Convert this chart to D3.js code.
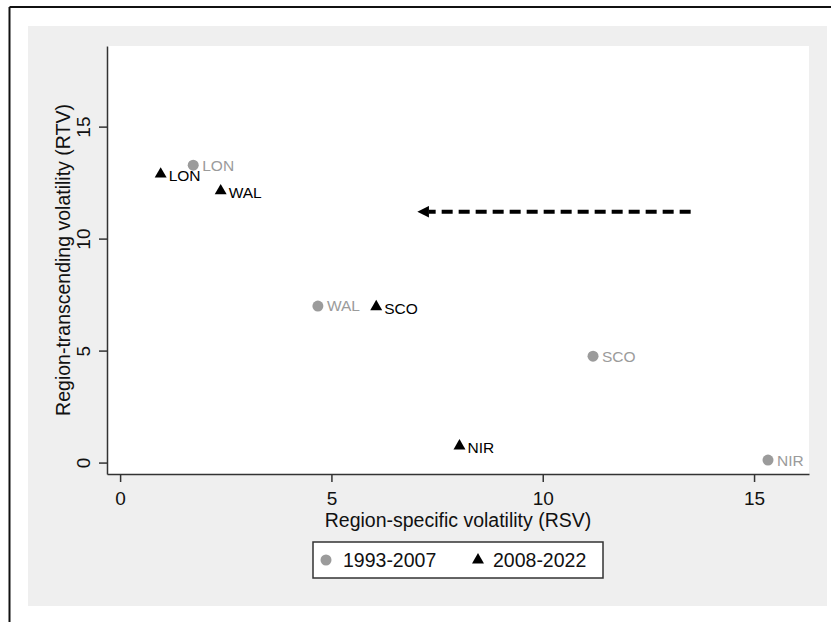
<!DOCTYPE html>
<html>
<head>
<meta charset="utf-8">
<script src="https://cdnjs.cloudflare.com/ajax/libs/d3/7.8.5/d3.min.js"></script>
<style>
    body { margin: 0; background: #fff; }
    svg { display: block; font-family: "Liberation Sans", Arial, sans-serif; }
</style>
</head>
<body>
<div id="chart"></div>
<script>
// values
var regions = ["LON", "WAL", "SCO", "NIR"];
var rsv_early = [1.73, 4.68, 11.19, 15.33];
var rtv_early = [13.28, 6.99, 4.75, 0.11];
var rsv_late = [0.96, 2.38, 6.06, 8.03];
var rtv_late = [12.88, 12.13, 6.96, 0.74];
var period_names = ["1993-2007", "2008-2022"];
var x_ticks = [0, 5, 10, 15];
var y_ticks = [0, 5, 10, 15];
var arrow_from = [13.5, 11.2];
var arrow_to = [7.0, 11.2];

var width = 831, height = 622;
var plot = { left: 107, right: 809, top: 46, bottom: 474 };
var grey = "#9b9b9b";

var svg = d3.select("#chart").append("svg")
    .attr("width", width)
    .attr("height", height);

// outer frame, only top and left edges show in the crop
svg.append("line").attr("x1", 9.5).attr("y1", 7).attr("x2", width).attr("y2", 7)
    .attr("stroke", "#111").attr("stroke-width", 2);
svg.append("line").attr("x1", 9.5).attr("y1", 7).attr("x2", 9.5).attr("y2", height)
    .attr("stroke", "#111").attr("stroke-width", 2);

// graph region
svg.append("rect")
    .attr("x", 28).attr("y", 26)
    .attr("width", 799).attr("height", 580)
    .attr("fill", "#efefef");

svg.append("rect")
    .attr("x", plot.left).attr("y", plot.top)
    .attr("width", plot.right - plot.left).attr("height", plot.bottom - plot.top)
    .attr("fill", "#fff");

var x = d3.scaleLinear()
    .domain([-0.31, 16.3])
    .range([plot.left, plot.right]);

var y = d3.scaleLinear()
    .domain([-0.51, 18.6])
    .range([plot.bottom, plot.top]);

var x_axis = svg.append("g")
    .attr("transform", "translate(0," + plot.bottom + ")")
    .call(d3.axisBottom(x).tickValues(x_ticks).tickSize(8).tickPadding(10).tickSizeOuter(0));

var y_axis = svg.append("g")
    .attr("transform", "translate(" + plot.left + ",0)")
    .call(d3.axisLeft(y).tickValues(y_ticks).tickSize(8).tickPadding(6).tickSizeOuter(0));

[x_axis, y_axis].forEach(function (a) {
    a.select(".domain").attr("stroke", "#333").attr("stroke-width", 1.5);
    a.selectAll(".tick line").attr("stroke", "#333").attr("stroke-width", 1.5);
    a.selectAll(".tick text")
        .attr("font-size", "19px")
        .attr("font-family", "Liberation Sans, Arial, sans-serif")
        .attr("fill", "#111");
});

// y tick labels stand vertical like in stata
y_axis.selectAll(".tick text")
    .attr("transform", "rotate(-90)")
    .attr("x", 0)
    .attr("y", -17)
    .attr("dy", 0)
    .style("text-anchor", "middle");

svg.append("text")
    .attr("x", (plot.left + plot.right) / 2)
    .attr("y", 527)
    .attr("font-size", "19.5px")
    .attr("fill", "#111")
    .style("text-anchor", "middle")
    .text("Region-specific volatility (RSV)");

svg.append("text")
    .attr("transform", "translate(70," + (plot.top + plot.bottom) / 2 + ") rotate(-90)")
    .attr("font-size", "19.5px")
    .attr("fill", "#111")
    .style("text-anchor", "middle")
    .text("Region-transcending volatility (RTV)");

// dashed arrow
svg.append("defs").append("marker")
    .attr("id", "head")
    .attr("viewBox", "0 0 10 10")
    .attr("refX", 0).attr("refY", 5)
    .attr("markerWidth", 3.3).attr("markerHeight", 2.9)
    .attr("markerUnits", "strokeWidth")
    .attr("orient", "auto-start-reverse")
    .append("path")
    .attr("d", "M0,0 L10,5 L0,10 Z")
    .attr("fill", "#000");

svg.append("line")
    .attr("x1", x(arrow_from[0])).attr("y1", y(arrow_from[1]))
    .attr("x2", x(arrow_to[0]) + 13).attr("y2", y(arrow_to[1]))
    .attr("stroke", "#000")
    .attr("stroke-width", 4)
    .attr("stroke-dasharray", "11,6")
    .attr("marker-end", "url(#head)");

// 1993-2007 points
var early = svg.append("g").selectAll("g")
    .data(regions)
    .enter().append("g")
    .attr("transform", function (d, i) { return "translate(" + x(rsv_early[i]) + "," + y(rtv_early[i]) + ")"; });

early.append("circle")
    .attr("r", 5.5)
    .attr("fill", grey);

early.append("text")
    .attr("x", 9)
    .attr("dy", "0.35em")
    .attr("font-size", "15.5px")
    .attr("fill", grey)
    .text(function (d) { return d; });

// 2008-2022 points
var tri = d3.symbol().type(d3.symbolTriangle).size(62);

var late = svg.append("g").selectAll("g")
    .data(regions)
    .enter().append("g")
    .attr("transform", function (d, i) { return "translate(" + x(rsv_late[i]) + "," + y(rtv_late[i]) + ")"; });

late.append("path")
    .attr("d", tri)
    .attr("fill", "#000");

late.append("text")
    .attr("x", 8)
    .attr("dy", "0.45em")
    .attr("font-size", "15.5px")
    .attr("fill", "#000")
    .text(function (d) { return d; });

// legend
var legend = svg.append("g");
legend.append("rect")
    .attr("x", 313).attr("y", 542)
    .attr("width", 290).attr("height", 36)
    .attr("fill", "#fff")
    .attr("stroke", "#333")
    .attr("stroke-width", 1.5);

legend.append("circle")
    .attr("cx", 326).attr("cy", 560)
    .attr("r", 5.5)
    .attr("fill", grey);

legend.append("path")
    .attr("d", tri)
    .attr("transform", "translate(478,560)")
    .attr("fill", "#000");

legend.selectAll("text.lab")
    .data(period_names)
    .enter().append("text")
    .attr("class", "lab")
    .attr("x", function (d, i) { return i == 0 ? 343 : 493; })
    .attr("y", 567)
    .attr("font-size", "19.5px")
    .attr("fill", "#111")
    .text(function (d) { return d; });
</script>
</body>
</html>
